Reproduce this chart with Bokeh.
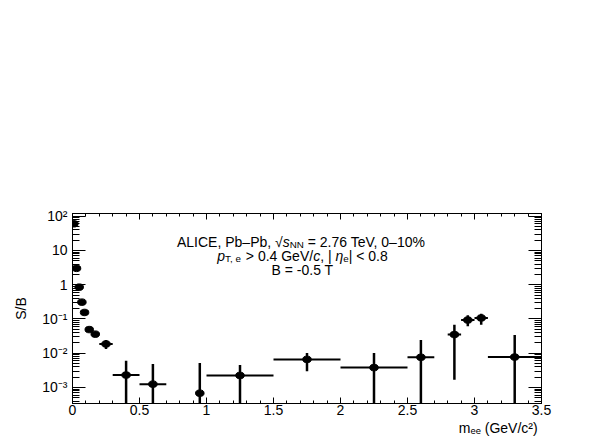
from bokeh.plotting import figure
from bokeh.models import (Range1d, LinearAxis, LogAxis, FixedTicker, Label, ColumnDataSource,
                          CustomJSTickFormatter, Title)
from bokeh.embed import file_html
from bokeh.resources import INLINE

# ---------------- data ----------------
mass    = [0.01, 0.03, 0.05, 0.07, 0.09, 0.125, 0.17, 0.25, 0.4, 0.6, 0.95, 1.25, 1.75, 2.25, 2.6, 2.85, 2.95, 3.05, 3.3]
mass_lo = [0.0, 0.02, 0.04, 0.06, 0.08, 0.11, 0.14, 0.2, 0.3, 0.5, 0.92, 1.0, 1.5, 2.0, 2.5, 2.8, 2.9, 3.0, 3.1]
mass_hi = [0.02, 0.04, 0.06, 0.08, 0.10, 0.14, 0.2, 0.3, 0.5, 0.7, 0.98, 1.5, 2.0, 2.5, 2.7, 2.9, 3.0, 3.1, 3.5]
sb      = [60, 3.0, 0.85, 0.31, 0.155, 0.049, 0.036, 0.0186, 0.0023, 0.00125, 0.00068, 0.00224, 0.0066, 0.0038, 0.0076, 0.035, 0.093, 0.107, 0.0077]
sb_lo   = [57, 2.85, 0.81, 0.295, 0.147, 0.044, 0.031, 0.0133, 1e-5, 1e-5, 1e-5, 1e-5, 0.00295, 1e-5, 1e-5, 0.00167, 0.061, 0.068, 1e-5]
sb_hi   = [63, 3.15, 0.89, 0.325, 0.163, 0.055, 0.041, 0.0245, 0.006, 0.0048, 0.0052, 0.0045, 0.0101, 0.0101, 0.0243, 0.068, 0.128, 0.143, 0.034]

x_ticks = [0, 0.5, 1, 1.5, 2, 2.5, 3, 3.5]
x_tick_labels = ["0", "0.5", "1", "1.5", "2", "2.5", "3", "3.5"]
x_minor = [round(0.1 * i, 1) for i in range(36)]
y_ticks = [0.001, 0.01, 0.1, 1, 10, 100]
y_tick_labels = ["10\u207b\u00b3", "10\u207b\u00b2", "10\u207b\u00b9", "1", "10", "10\u00b2"]
y_minor = [m * d for d in [1e-4, 1e-3, 1e-2, 1e-1, 1, 10] for m in range(2, 10)]
x_title = "m\u2091\u2091  (GeV/c\u00b2)"
y_title = "S/B"

FONT = "Liberation Sans"

src = ColumnDataSource(dict(mass=mass, mass_lo=mass_lo, mass_hi=mass_hi, sb=sb, sb_lo=sb_lo, sb_hi=sb_hi))

y_bottom, y_top = 3.4e-4, 120
LEFT, TOP, FRAME_W, FRAME_H = 72, 213, 469, 190

p = figure(width=599, height=436, x_range=Range1d(0, 3.5), y_range=Range1d(y_bottom, y_top),
           y_axis_type="log", output_backend="svg", toolbar_location=None,
           min_border_left=LEFT, min_border_right=58, min_border_top=TOP, min_border_bottom=33)
p.xgrid.visible = False
p.ygrid.visible = False
p.outline_line_color = "black"
p.background_fill_color = "white"
p.border_fill_color = "white"

xa = p.xaxis[0]
xa.ticker = FixedTicker(ticks=x_ticks, minor_ticks=x_minor)
xa.major_label_overrides = {t: l for t, l in zip(x_ticks, x_tick_labels)}
ya = p.yaxis[0]
ya.ticker = FixedTicker(ticks=y_ticks, minor_ticks=y_minor)
ya.major_label_overrides = {t: l for t, l in zip(y_ticks, y_tick_labels)}
ya.axis_label = y_title
ya.axis_label_standoff = 10

for ax, (tin, mtin) in [(xa, (6, 3)), (ya, (13, 7))]:
    ax.major_tick_in = tin
    ax.major_tick_out = 0
    ax.minor_tick_in = mtin
    ax.minor_tick_out = 0
    ax.major_label_text_font = FONT
    ax.major_label_text_font_size = "14px"
    ax.major_label_text_color = "black"
    ax.axis_label_text_font = FONT
    ax.axis_label_text_font_style = "normal"
    ax.axis_label_text_font_size = "14px"
    ax.axis_label_text_color = "black"
    ax.axis_line_color = "black"
    ax.major_tick_line_color = "black"
    ax.minor_tick_line_color = "black"
xa.major_label_standoff = 1
ya.major_label_standoff = 5

# x-axis title, right-aligned under the frame as in the reference
p.add_layout(Title(text=x_title, align="right", text_font=FONT, text_font_size="14px",
                   text_font_style="normal", text_color="black", standoff=0, offset=0), "below")

blank = CustomJSTickFormatter(code="return ''")
top = LinearAxis(ticker=FixedTicker(ticks=x_ticks, minor_ticks=x_minor), formatter=blank,
                 major_tick_in=6, major_tick_out=0, minor_tick_in=3, minor_tick_out=0,
                 major_label_text_font_size="1px", major_label_standoff=0)
p.add_layout(top, "above")
right = LogAxis(ticker=FixedTicker(ticks=y_ticks, minor_ticks=y_minor), formatter=blank,
                major_tick_in=13, major_tick_out=0, minor_tick_in=7, minor_tick_out=0,
                major_label_text_font_size="1px", major_label_standoff=0)
p.add_layout(right, "right")

# error bars and markers
p.segment(x0="mass", y0="sb_lo", x1="mass", y1="sb_hi", source=src, line_color="black", line_width=2.5)
p.segment(x0="mass_lo", y0="sb", x1="mass_hi", y1="sb", source=src, line_color="black", line_width=2)
p.ellipse(x="mass", y="sb", width=8.5, height=6.5, width_units="screen", height_units="screen",
          source=src, fill_color="black", line_color="black")

# ---------------- rich text helper (canvas pixel placement) ----------------
AW = {' ': 278, ',': 278, '-': 333, '.': 278, '/': 278, '=': 584, '>': 584, '<': 584, '%': 889,
      '(': 333, ')': 333, '|': 260, 'A': 667, 'B': 667, 'C': 722, 'E': 667, 'G': 778, 'I': 278,
      'L': 556, 'N': 722, 'P': 667, 'T': 611, 'V': 667, 'b': 556, 'c': 500, 'e': 556, 'm': 833,
      'p': 556, 's': 500, '\u2013': 556, '\u221a': 549, '\u03b7': 556}


def tw(s, size):
    return sum(AW.get(c, 556) for c in s) * size / 1000.0


def rich(pieces, x_px, base_y, size, align="center"):
    widths = [tw(t, size * sc) for t, sc, it, dy in pieces]
    total = sum(widths)
    x0 = x_px - total / 2 if align == "center" else x_px - total
    for (t, sc, it, dy), w in zip(pieces, widths):
        lead = len(t) - len(t.lstrip())
        p.add_layout(Label(x=x0 + tw(t[:lead], size * sc), y=base_y, x_units="canvas", y_units="canvas",
                           y_offset=dy,
                           text=t.strip(), text_font=FONT, text_font_size=f"{size * sc:.1f}px",
                           text_font_style="italic" if it else "normal",
                           text_baseline="alphabetic", text_align="left", text_color="black"))
        x0 += w


S = 14
cx = LEFT + 230
rich([("ALICE, Pb\u2013Pb, ", 1, False, 0), ("\u221a", 1, False, 0), ("s", 1, True, 0),
      ("NN", 0.7, False, -3), (" = 2.76 TeV, 0\u201310%", 1, False, 0)], cx, TOP + 28, S)
rich([("p", 1, True, 0), ("T, e", 0.7, False, -3), (" > 0.4 GeV/", 1, False, 0), ("c", 1, True, 0),
      (", | ", 1, False, 0), ("\u03b7", 1, True, 0), ("e", 0.7, False, -3), ("| < 0.8", 1, False, 0)],
     cx, TOP + 42, S)
rich([("B = -0.5 T", 1, False, 0)], cx, TOP + 56, S)

open("out.html", "w").write(file_html(p, INLINE))
